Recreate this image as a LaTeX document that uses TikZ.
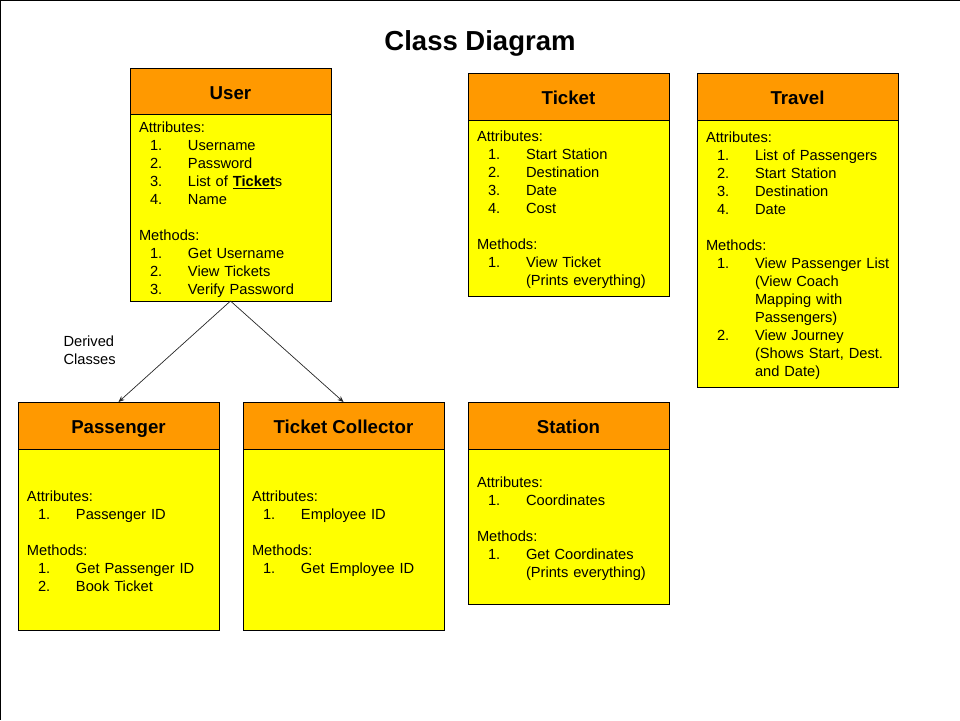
\documentclass[tikz,border=0pt]{standalone}
\usepackage{fontspec}
\setmainfont{Liberation Sans}
\usetikzlibrary{positioning,arrows.meta}
\definecolor{headorange}{HTML}{FF9900}
\definecolor{bodyyellow}{HTML}{FFFF00}
\newcommand{\clsitem}[2]{\hspace*{11pt}\makebox[38pt][l]{#1}\mbox{#2}}
\newcommand{\clsmore}[1]{\hspace*{49pt}\mbox{#1}}
\tikzset{
  classhead/.style={draw, fill=headorange, minimum width=201pt, minimum height=47pt,
    inner sep=0pt, outer sep=0pt, text height=16.4pt, text depth=0pt,
    font=\fontsize{18.67}{22}\selectfont\bfseries},
  classbody/.style={draw, fill=bodyyellow, text width=183pt, inner xsep=9pt, inner ysep=0pt,
    outer sep=0pt, align=left, font=\fontsize{14.67}{18}\selectfont, below=0pt of #1,
    execute at begin node={\rule{0pt}{14.5pt}}},
  derived/.style={-{Stealth[length=6pt,width=5pt]}, draw=black!85, line width=0.7pt}
}
\begin{document}
\begin{tikzpicture}[x=1pt, y=-1pt]
\useasboundingbox (0,0) rectangle (960,720);
\draw [line width=2pt] (0,720) -- (0,0) -- (960,0);
\node (title) at (480,43) {\fontsize{27.5}{32}\selectfont\bfseries Class Diagram};
% top row
\node [classhead, minimum height=46pt] (user) at (230.5,91) {User};
\node [classbody=user, minimum height=187pt] (userbody) {Attributes:\\
\clsitem{1.}{Username}\\
\clsitem{2.}{Password}\\
\clsitem{3.}{List of \underline{\textbf{Ticket}}s}\\
\clsitem{4.}{Name}\\[18pt]
Methods:\\
\clsitem{1.}{Get Username}\\
\clsitem{2.}{View Tickets}\\
\clsitem{3.}{Verify Password}};
\node [classhead] (ticket) at (568.5,96.5) {Ticket};
\node [classbody=ticket, minimum height=176pt] (ticketbody) {Attributes:\\
\clsitem{1.}{Start Station}\\
\clsitem{2.}{Destination}\\
\clsitem{3.}{Date}\\
\clsitem{4.}{Cost}\\[18pt]
Methods:\\
\clsitem{1.}{View Ticket}\\
\clsmore{(Prints everything)}};
\node [classhead] (travel) at (797.5,96.5) {Travel};
\node [classbody=travel, minimum height=267pt] (travelbody) {Attributes:\\
\clsitem{1.}{List of Passengers}\\
\clsitem{2.}{Start Station}\\
\clsitem{3.}{Destination}\\
\clsitem{4.}{Date}\\[18pt]
Methods:\\
\clsitem{1.}{View Passenger List}\\
\clsmore{(View Coach}\\
\clsmore{Mapping with}\\
\clsmore{Passengers)}\\
\clsitem{2.}{View Journey}\\
\clsmore{(Shows Start, Dest.}\\
\clsmore{and Date)}};
% bottom row
\node [classhead] (passenger) at (118.5,425.5) {Passenger};
\node [classbody=passenger, minimum height=181pt] (passengerbody) {Attributes:\\
\clsitem{1.}{Passenger ID}\\[18pt]
Methods:\\
\clsitem{1.}{Get Passenger ID}\\
\clsitem{2.}{Book Ticket}};
\node [classhead] (collector) at (343.5,425.5) {Ticket Collector};
\node [classbody=collector, minimum height=181pt] (collectorbody) {Attributes:\\
\clsitem{1.}{Employee ID}\\[18pt]
Methods:\\
\clsitem{1.}{Get Employee ID}\\
\mbox{}};
\node [classhead] (station) at (568.5,425.5) {Station};
\node [classbody=station, minimum height=155pt] (stationbody) {Attributes:\\
\clsitem{1.}{Coordinates}\\[18pt]
Methods:\\
\clsitem{1.}{Get Coordinates}\\
\clsmore{(Prints everything)}};
% inheritance
\draw [derived] (userbody.south) -- (passenger.north);
\draw [derived] (userbody.south) -- (collector.north);
\node [anchor=west, align=left, font=\fontsize{14.67}{18}\selectfont] (derivedlabel) at (60,350) {Derived\\Classes};
\end{tikzpicture}
\end{document}
